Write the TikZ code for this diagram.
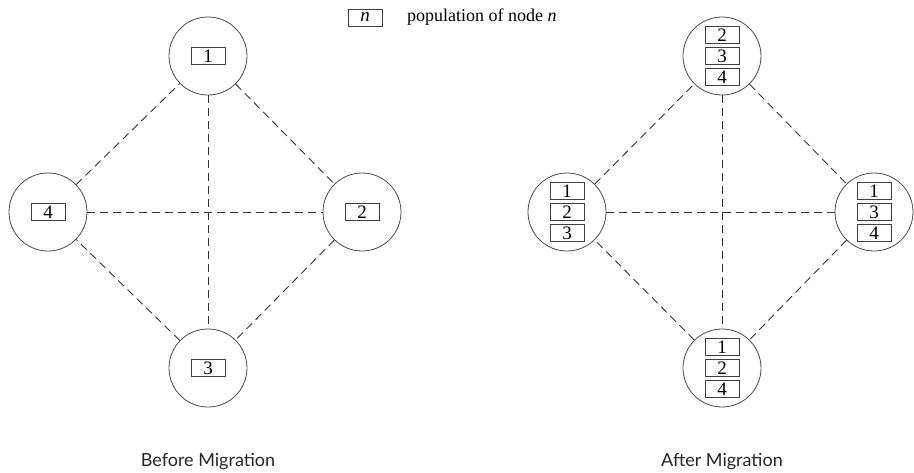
\documentclass[tikz,border=0pt]{standalone}
\usepackage{fontspec}
\setmainfont{Liberation Serif}
\newfontfamily\labelfont{Lato}
\usetikzlibrary{calc}
\begin{document}
\begin{tikzpicture}[x=1pt,y=1pt,
  site/.style={circle,draw=black!70,line width=0.8pt,minimum size=78pt,inner sep=0pt},
  numbox/.style={rectangle,draw=black!75,line width=0.8pt,minimum width=34pt,minimum height=17pt,inner sep=0pt,font=\fontsize{19}{19}\selectfont},
  link/.style={draw=black!80,line width=0.9pt,dash pattern=on 8pt off 5pt},
  caption/.style={font=\labelfont\fontsize{18}{20}\selectfont,text=black!85}]
\useasboundingbox (0,0) rectangle (914,-472);
% legend
\node[numbox] (legbox) at (365,-17.5) {\itshape n};
\node[anchor=west,font=\fontsize{18}{20}\selectfont,inner sep=0pt] (legtxt) at (407,-17) {population of node \textit{n}};
% before migration
\node[site] (a1) at (208,-56) {};
\node[site] (a2) at (362,-212) {};
\node[site] (a3) at (208,-368) {};
\node[site] (a4) at (48,-212) {};
\node[numbox] (a1b) at (a1) {1};
\node[numbox] (a2b) at (a2) {2};
\node[numbox] (a3b) at (a3) {3};
\node[numbox] (a4b) at (a4) {4};
\draw[link] (a1) -- (a2);
\draw[link] (a2) -- (a3);
\draw[link] (a3) -- (a4);
\draw[link] (a4) -- (a1);
\draw[link] (a1) -- (a3);
\draw[link] (a4) -- (a2);
% after migration
\node[site] (b1) at (722,-56) {};
\node[site] (b2) at (874,-212) {};
\node[site] (b3) at (722,-368) {};
\node[site] (b4) at (567,-212) {};
\node[numbox] (b1x) at ($(b1)+(0,21)$) {2};
\node[numbox] (b1y) at (b1) {3};
\node[numbox] (b1z) at ($(b1)+(0,-21)$) {4};
\node[numbox] (b2x) at ($(b2)+(0,21)$) {1};
\node[numbox] (b2y) at (b2) {3};
\node[numbox] (b2z) at ($(b2)+(0,-21)$) {4};
\node[numbox] (b3x) at ($(b3)+(0,21)$) {1};
\node[numbox] (b3y) at (b3) {2};
\node[numbox] (b3z) at ($(b3)+(0,-21)$) {4};
\node[numbox] (b4x) at ($(b4)+(0,21)$) {1};
\node[numbox] (b4y) at (b4) {2};
\node[numbox] (b4z) at ($(b4)+(0,-21)$) {3};
\draw[link] (b1) -- (b2);
\draw[link] (b2) -- (b3);
\draw[link] (b3) -- (b4);
\draw[link] (b4) -- (b1);
\draw[link] (b1) -- (b3);
\draw[link] (b4) -- (b2);
% captions
\node[caption] (capa) at (208,-462) {Before Migration};
\node[caption] (capb) at (722,-462) {After Migration};
\end{tikzpicture}
\end{document}
